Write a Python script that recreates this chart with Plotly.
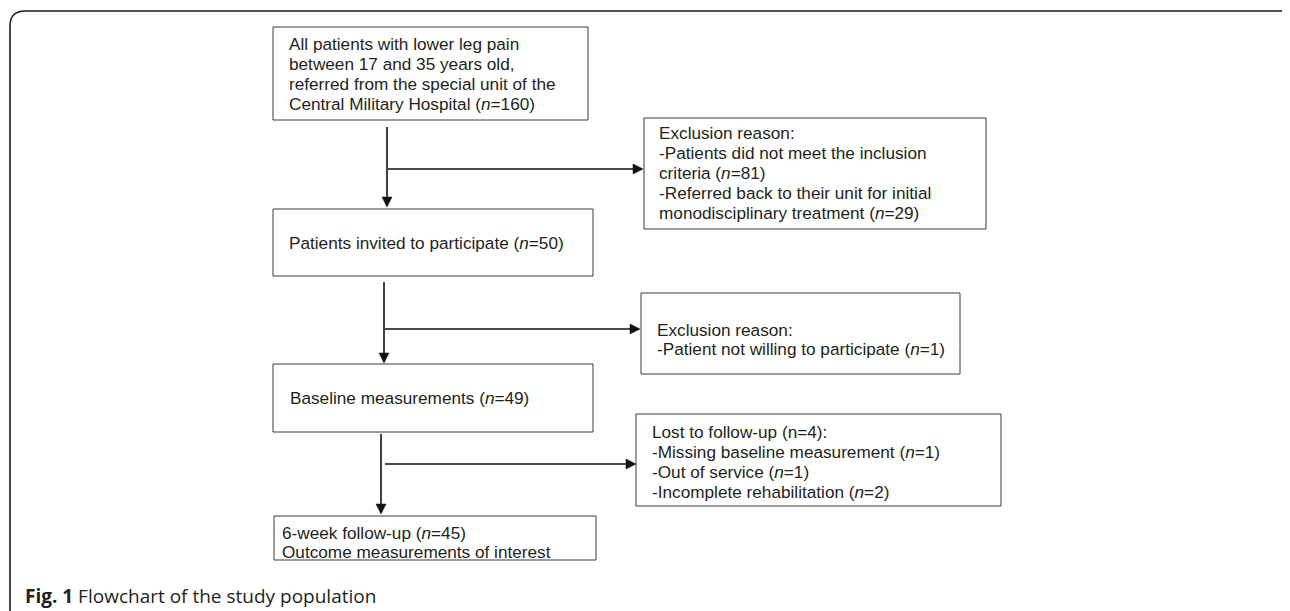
import plotly.graph_objects as go

# ---- content (texts of the flowchart) ----
main_box_lines = [
    ["All patients with lower leg pain",
     "between 17 and 35 years old,",
     "referred from the special unit of the",
     "Central Military Hospital (<i>n</i>=160)"],
    ["Patients invited to participate (<i>n</i>=50)"],
    ["Baseline measurements (<i>n</i>=49)"],
    ["6-week follow-up (<i>n</i>=45)",
     "Outcome measurements of interest"],
]
side_box_lines = [
    ["Exclusion reason:",
     "-Patients did not meet the inclusion",
     "criteria (<i>n</i>=81)",
     "-Referred back to their unit for initial",
     "monodisciplinary treatment (<i>n</i>=29)"],
    ["Exclusion reason:",
     "-Patient not willing to participate (<i>n</i>=1)"],
    ["Lost to follow-up (n=4):",
     "-Missing baseline measurement (<i>n</i>=1)",
     "-Out of service (<i>n</i>=1)",
     "-Incomplete rehabilitation (<i>n</i>=2)"],
]
caption = "<b>Fig. 1</b> Flowchart of the study population"

# ---- layout geometry (page pixel space) ----
W, H = 1290, 611
OFF = 8  # default body margin of the html page
main_boxes = [  # x0, y0, x1, y1, text_x, first_line_center
    (273, 27, 588, 120, 287, 44),
    (273, 209, 593, 276, 287, 243),
    (273, 364, 593, 432, 288, 398),
    (274, 516, 596, 560, 280, 533),
]
side_boxes = [
    (644, 118, 986, 229, 657, 133),
    (641, 293, 960, 374, 655, 330),
    (636, 414, 1001, 506, 650, 432),
]
# vertical arrow: x, y_start, y_tip ; horizontal: y, x_start, x_tip
v_arrows = [(387, 127, 207), (384, 282, 363), (381, 434, 514)]
h_arrows = [(169, 388, 643), (329, 385, 640), (464, 385, 636)]
LINE_STEP = 20

TXT_FONT = dict(family="Liberation Sans, Arial, sans-serif", size=17.2, color="#231f20")
BOX_LINE = dict(color="#3a3a3a", width=1)
ARROW_LINE = dict(color="#111111", width=1.6)

fig = go.Figure()
shapes = []
annotations = []

def add_box(box, lines, step=LINE_STEP):
    x0, y0, x1, y1, tx, ty = box
    shapes.append(dict(type="rect", xref="x", yref="y", x0=x0, y0=y0, x1=x1, y1=y1,
                       line=BOX_LINE, fillcolor="rgba(0,0,0,0)"))
    for i, t in enumerate(lines):
        annotations.append(dict(x=tx, y=ty + i * step, xref="x", yref="y", text=t,
                                showarrow=False, xanchor="left", yanchor="middle",
                                font=TXT_FONT))

for b, l in zip(main_boxes, main_box_lines):
    add_box(b, l, 19 if len(l) == 2 else LINE_STEP)
for b, l in zip(side_boxes, side_box_lines):
    add_box(b, l, 19 if len(l) == 2 else LINE_STEP)

AH = 10  # arrowhead length
AW = 5   # arrowhead half width
for x, ys, yt in v_arrows:
    shapes.append(dict(type="line", xref="x", yref="y", x0=x, y0=ys, x1=x, y1=yt - AH + 1,
                       line=ARROW_LINE))
    shapes.append(dict(type="path", xref="x", yref="y",
                       path=f"M {x-AW},{yt-AH} L {x+AW},{yt-AH} L {x},{yt} Z",
                       fillcolor="#111111", line=dict(color="#111111", width=0.5)))
for y, xs, xt in h_arrows:
    shapes.append(dict(type="line", xref="x", yref="y", x0=xs, y0=y, x1=xt - AH + 1, y1=y,
                       line=ARROW_LINE))
    shapes.append(dict(type="path", xref="x", yref="y",
                       path=f"M {xt-AH},{y-AW} L {xt-AH},{y+AW} L {xt},{y} Z",
                       fillcolor="#111111", line=dict(color="#111111", width=0.5)))

# outer frame (rounded top-left corner, open at bottom)
shapes.append(dict(type="path", xref="x", yref="y",
                   path="M 10,612 L 10,26 Q 10,11 25,11 L 1283,11 Q 1286,11 1287,15",
                   line=dict(color="#1a1a1a", width=1.6)))

annotations.append(dict(x=23, y=596, xref="x", yref="y", text=caption, showarrow=False,
                        xanchor="left", yanchor="middle",
                        font=dict(family="Open Sans, sans-serif", size=19, color="#231f20")))

fig.update_layout(
    width=W - OFF, height=H - OFF,
    margin=dict(l=0, r=0, t=0, b=0),
    paper_bgcolor="white", plot_bgcolor="white",
    xaxis=dict(range=[OFF, W], visible=False, fixedrange=True),
    yaxis=dict(range=[H, OFF], visible=False, fixedrange=True),
    shapes=shapes, annotations=annotations, showlegend=False,
)
fig.write_html("out.html")
